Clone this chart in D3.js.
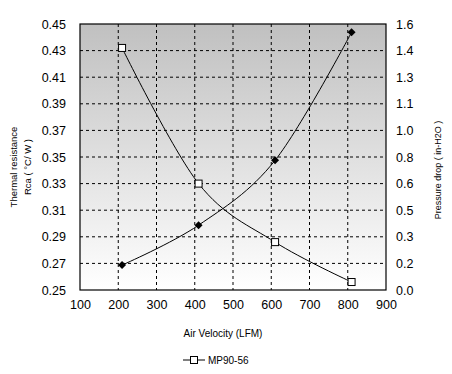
<!DOCTYPE html>
<html>
<head>
<meta charset="utf-8">
<script src="https://cdn.jsdelivr.net/npm/d3@7"></script>
<style>
  body { margin: 0; background: #fff; }
  text { font-family: "Liberation Sans", Arial, sans-serif; fill: #000; }
</style>
</head>
<body>
<div id="chart"></div>
<script>
// air velocity (LFM)
let velocity = [210, 410, 610, 810]
// thermal resistance Rca, left axis (hollow squares)
let rca = [0.432, 0.330, 0.286, 0.256]
// pressure drop, right axis (filled diamonds)
let pressure = [0.15, 0.39, 0.78, 1.55]

let xTicks = [100, 200, 300, 400, 500, 600, 700, 800, 900]
let leftTicks = [0.25, 0.27, 0.29, 0.31, 0.33, 0.35, 0.37, 0.39, 0.41, 0.43, 0.45]
let rightTicks = [0, 0.16, 0.32, 0.48, 0.64, 0.8, 0.96, 1.12, 1.28, 1.44, 1.6]

var margin = {top: 24, right: 66, bottom: 84, left: 80},
    width = 452 - margin.left - margin.right,
    height = 374 - margin.top - margin.bottom;

var svg = d3.select("#chart")
  .append("svg")
    .attr("width", 452)
    .attr("height", 374)

var defs = svg.append("defs")
var grad = defs.append("linearGradient")
    .attr("id", "bg")
    .attr("x1", 0).attr("y1", 0).attr("x2", 0).attr("y2", 1)
grad.append("stop").attr("offset", "0%").attr("stop-color", "#c0c0c0")
grad.append("stop").attr("offset", "100%").attr("stop-color", "#ffffff")

var g = svg.append("g")
    .attr("transform", `translate(${margin.left}, ${margin.top})`)

var x = d3.scaleLinear().domain([100, 900]).range([0, width])
var yL = d3.scaleLinear().domain([0.25, 0.45]).range([height, 0])
var yR = d3.scaleLinear().domain([0, 1.6]).range([height, 0])

g.append("rect")
  .attr("width", width)
  .attr("height", height)
  .attr("fill", "url(#bg)")

// grid
g.selectAll(".vgrid")
  .data(xTicks.slice(1, -1))
  .join("line")
  .attr("x1", d => x(d)).attr("x2", d => x(d))
  .attr("y1", 0).attr("y2", height)
  .attr("stroke", "#000")
  .attr("stroke-dasharray", "3,3")

g.selectAll(".hgrid")
  .data(leftTicks.slice(1, -1))
  .join("line")
  .attr("x1", 0).attr("x2", width)
  .attr("y1", d => yL(d)).attr("y2", d => yL(d))
  .attr("stroke", "#000")
  .attr("stroke-dasharray", "3,3")

g.append("rect")
  .attr("width", width)
  .attr("height", height)
  .attr("fill", "none")
  .attr("stroke", "#000")
  .attr("stroke-width", 1.2)

// axes
let xAxis = g.append("g")
  .attr("transform", "translate(0," + height + ")")
  .call(d3.axisBottom(x).tickValues(xTicks).tickSize(0).tickPadding(10).tickFormat(d3.format("d")))
let leftAxis = g.append("g")
  .call(d3.axisLeft(yL).tickValues(leftTicks).tickSize(0).tickPadding(14).tickFormat(d3.format(".2f")))
let rightAxis = g.append("g")
  .attr("transform", "translate(" + width + ",0)")
  .call(d3.axisRight(yR).tickValues(rightTicks).tickSize(0).tickPadding(10).tickFormat(d3.format(".1f")))

;[xAxis, leftAxis, rightAxis].forEach(a => {
  a.select(".domain").remove()
  a.selectAll("text").style("font-size", "12.5px").style("font-family", "Liberation Sans, Arial, sans-serif")
})

// lines
let line = d3.line().curve(d3.curveCardinal.tension(0))

g.append("path")
  .datum(velocity.map((v, i) => [x(v), yL(rca[i])]))
  .attr("d", line)
  .attr("fill", "none")
  .attr("stroke", "#000")
  .attr("stroke-width", 1)

g.append("path")
  .datum(velocity.map((v, i) => [x(v), yR(pressure[i])]))
  .attr("d", line)
  .attr("fill", "none")
  .attr("stroke", "#000")
  .attr("stroke-width", 1)

g.selectAll(".sq")
  .data(velocity)
  .join("rect")
  .attr("x", (d, i) => x(d) - 3.5)
  .attr("y", (d, i) => yL(rca[i]) - 3.5)
  .attr("width", 7).attr("height", 7)
  .attr("fill", "#fff")
  .attr("stroke", "#000")

// rhombus marker, a bit wider than d3's symbolDiamond
g.selectAll(".dia")
  .data(velocity)
  .join("path")
  .attr("d", "M0,-4L4,0L0,4L-4,0Z")
  .attr("transform", (d, i) => `translate(${x(d)},${yR(pressure[i])})`)
  .attr("fill", "#000")

// titles
svg.append("text")
  .attr("x", 223).attr("y", 337)
  .attr("text-anchor", "middle")
  .style("font-size", "10px")
  .text("Air Velocity (LFM)")

svg.append("text")
  .attr("transform", "translate(17,167) rotate(-90)")
  .attr("text-anchor", "middle")
  .style("font-size", "9.5px")
  .text("Thermal resistance")
svg.append("text")
  .attr("transform", "translate(31,167) rotate(-90)")
  .attr("text-anchor", "middle")
  .style("font-size", "9.5px")
  .text("Rca ( °C/ W )")

svg.append("text")
  .attr("transform", "translate(441,170) rotate(-90)")
  .attr("text-anchor", "middle")
  .style("font-size", "9px")
  .text("Pressure drop ( in-H2O )")

// legend
svg.append("line")
  .attr("x1", 183).attr("x2", 205)
  .attr("y1", 360).attr("y2", 360)
  .attr("stroke", "#000")
svg.append("rect")
  .attr("x", 190.5).attr("y", 356.5)
  .attr("width", 7).attr("height", 7)
  .attr("fill", "#fff").attr("stroke", "#000")
svg.append("text")
  .attr("x", 208).attr("y", 364)
  .style("font-size", "10px")
  .text("MP90-56")
</script>
</body>
</html>
